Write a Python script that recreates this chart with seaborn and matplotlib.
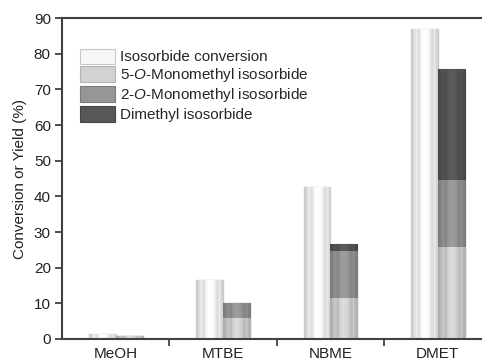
import numpy as np
import pandas as pd
import matplotlib
matplotlib.use('Agg')
import matplotlib.pyplot as plt
import seaborn as sns
from matplotlib.patches import Patch
from matplotlib.colors import to_rgb

# Data
solvents = ['MeOH', 'MTBE', 'NBME', 'DMET']
conversion = [1.4, 16.5, 42.7, 86.9]
mono5 = [0.8, 5.8, 11.4, 25.9]
mono2 = [0.0, 4.2, 13.4, 18.7]
dimethyl = [0.0, 0.0, 1.8, 31.0]

labels = ['Isosorbide conversion', '5-$O$-Monomethyl isosorbide',
          '2-$O$-Monomethyl isosorbide', 'Dimethyl isosorbide']
colors = ['#f7f7f7', '#d2d2d2', '#969696', '#575757']
edges = ['#c8c8c8', '#b4b4b4', '#7a7a7a', '#444444']

sns.set_style('ticks')
plt.rcParams['font.family'] = ['Liberation Sans', 'DejaVu Sans']
plt.rcParams['mathtext.fontset'] = 'custom'
plt.rcParams['mathtext.rm'] = 'Liberation Sans'
plt.rcParams['mathtext.it'] = 'Liberation Sans:italic'

fig = plt.figure(figsize=(4.82, 3.64), dpi=100)
ax = fig.add_axes([0.1286, 0.0687, 0.891, 0.8818])

# stacked layers, drawn from the tallest cumulative total down
m5 = np.array(mono5)
m2 = np.array(mono2)
dm = np.array(dimethyl)
layers = [
    (m5 + m2 + dm, colors[3], edges[3]),
    (m5 + m2, colors[2], edges[2]),
    (m5, colors[1], edges[1]),
]

conv_df = pd.DataFrame({'solvent': solvents, 'value': conversion, 'kind': 'conv'})
sns.barplot(data=conv_df, x='solvent', y='value', hue='kind', hue_order=['conv', 'prod'],
            order=solvents, palette={'conv': colors[0], 'prod': colors[0]},
            width=0.5, dodge=True, saturation=1, edgecolor=edges[0], linewidth=1,
            legend=False, ax=ax)
for vals, c, e in layers:
    d = pd.DataFrame({'solvent': solvents, 'value': vals, 'kind': 'prod'})
    d = d[d['value'] > 0]
    sns.barplot(data=d, x='solvent', y='value', hue='kind', hue_order=['conv', 'prod'],
                order=solvents, palette={'conv': c, 'prod': c},
                width=0.5, dodge=True, saturation=1, edgecolor=e, linewidth=0.8,
                legend=False, ax=ax)

# cylinder-like shading on each bar
profile = np.array([0.82, 0.9, 0.96, 0.88, 1.0, 1.04, 1.04, 1.02, 0.96, 0.88, 0.95, 0.85])
for p in list(ax.patches):
    if p.get_height() <= 0:
        continue
    base = np.array(to_rgb(p.get_facecolor()))
    img = np.clip(base[None, None, :] * profile[None, :, None], 0, 1)
    x0, y0 = p.get_x(), p.get_y()
    im = ax.imshow(img, extent=[x0, x0 + p.get_width(), y0, y0 + p.get_height()],
                   aspect='auto', interpolation='bilinear', zorder=p.get_zorder() + 0.01)
    im.set_clip_path(p)

ax.set_xlim(-0.5, 3.5)
ax.set_ylim(0, 90)
ax.set_yticks(range(0, 91, 10))
ax.set_xticks(range(4))
ax.set_xticklabels(solvents)
ax.set_xticks([0.5, 1.5, 2.5], minor=True)
ax.tick_params(axis='x', which='major', length=0, pad=6, labelsize=11, colors='#222222')
ax.tick_params(axis='x', which='minor', length=5, width=1.3, direction='out', color='#404040')
ax.tick_params(axis='y', length=5, width=1.3, direction='out', labelsize=11, pad=3,
               color='#404040', labelcolor='#222222')
ax.set_xlabel('')
ax.set_ylabel('Conversion or Yield (%)', fontsize=11, color='#222222', labelpad=5)
for s in ax.spines.values():
    s.set_color('#404040')
    s.set_linewidth(1.5)

handles = [Patch(facecolor=c, edgecolor=e, linewidth=0.8) for c, e in zip(colors, edges)]
ax.legend(handles, labels, loc='upper left', bbox_to_anchor=(0.042, 0.905),
          frameon=False, fontsize=11, handlelength=2.3, handleheight=1.2,
          handletextpad=0.3, labelspacing=0.13, borderpad=0, borderaxespad=0)

fig.savefig('out.png', dpi=100)
